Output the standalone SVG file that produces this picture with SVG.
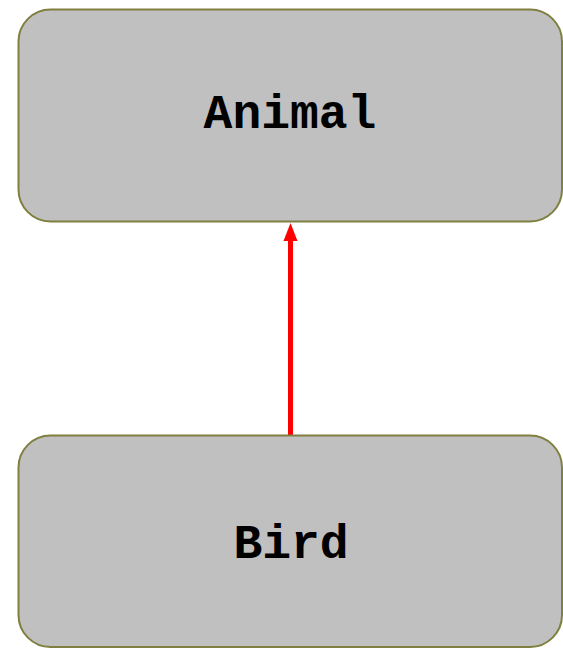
<svg xmlns="http://www.w3.org/2000/svg" width="563" height="648" viewBox="0 0 563 648">
  <style>
    .node rect { fill: #c0c0c0; stroke: #7f7f3f; stroke-width: 2; }
    .node text { font-family: "Courier New", "Liberation Mono", monospace; font-weight: bold; font-size: 48px; fill: #000; text-anchor: middle; }
    .edge { stroke: #ff0000; stroke-width: 5; fill: none; }
    .head { fill: #ff0000; }
  </style>
  <g id="connectors">
    <line class="edge" x1="290.5" y1="435" x2="290.5" y2="238"/>
    <path class="head" d="M290.5 223 L297.5 241 L283.5 241 Z"/>
  </g>
  <g id="animal" class="node">
    <rect x="18.5" y="9.5" width="543.5" height="212" rx="32" ry="32"/>
    <text x="290" y="127.5">Animal</text>
  </g>
  <g id="bird" class="node">
    <rect x="18.5" y="435.5" width="543.5" height="211.5" rx="32" ry="32"/>
    <text x="291" y="557.5">Bird</text>
  </g>
</svg>
